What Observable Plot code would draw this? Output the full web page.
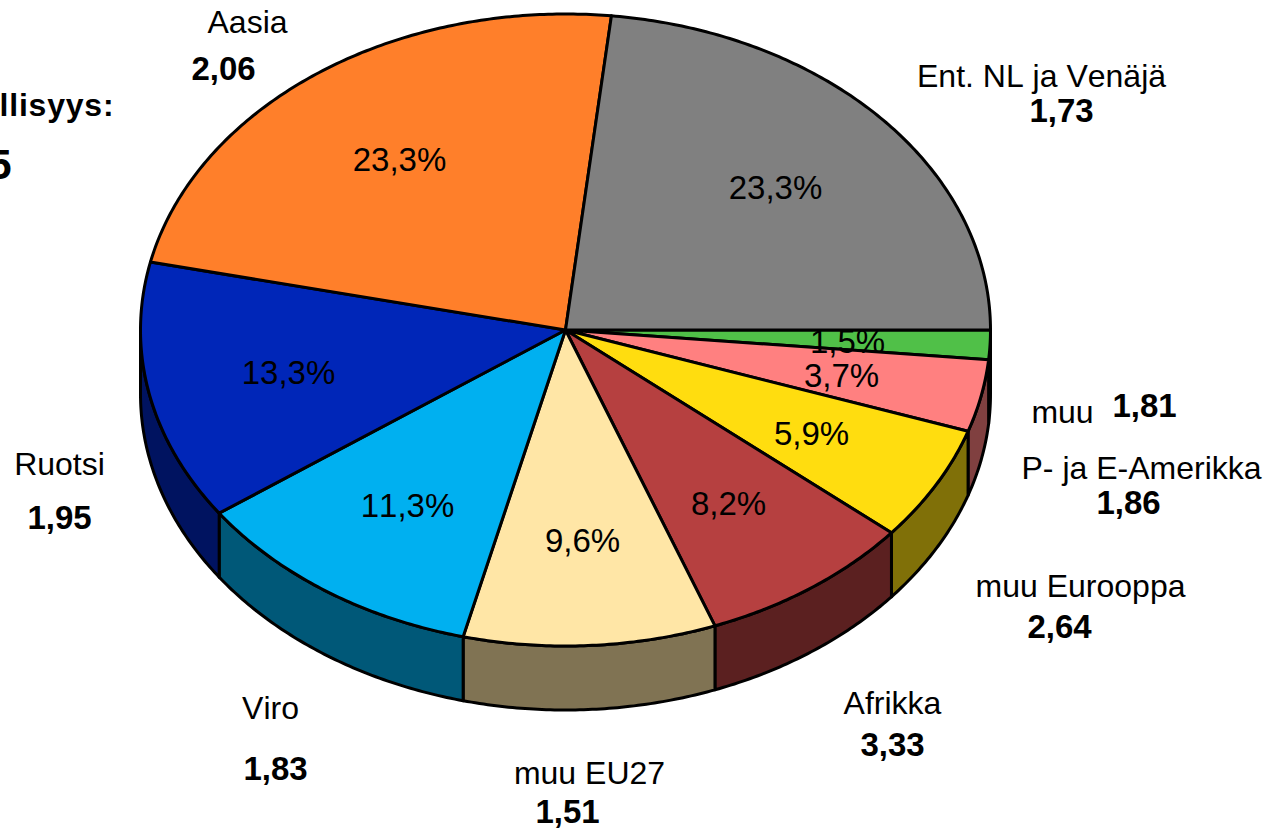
<!DOCTYPE html>
<html><head><meta charset="utf-8">
<script src="https://cdn.jsdelivr.net/npm/d3@7"></script>
<script src="https://cdn.jsdelivr.net/npm/@observablehq/plot@0.6"></script>
<style>html,body{margin:0;padding:0;background:#fff;overflow:hidden}svg{display:block}
svg text{font-kerning:none}
.headline text{letter-spacing:.8px}
</style>
</head><body><div id="chart"></div>
<script>
// Slices, clockwise from the 3 o'clock position
const regions = ["muu","P- ja E-Amerikka","muu Eurooppa","Afrikka","muu EU27","Viro","Ruotsi","Aasia","Ent. NL ja Venäjä"];
const shares = [1.5,3.7,5.9,8.2,9.6,11.3,13.3,23.3,23.3];
const shareLabels = ["1,5%","3,7%","5,9%","8,2%","9,6%","11,3%","13,3%","23,3%","23,3%"];
const rates = ["1,81","1,86","2,64","3,33","1,51","1,83","1,95","2,06","1,73"];
const topColors = ["#50c048","#ff8080","#ffdd0f","#b64040","#ffe6a6","#00b0f0","#0026b8","#ff7f2a","#808080"];
const wallColors = ["#286024","#804040","#807008","#5b2020","#807353","#005878","#001360","#804015","#404040"];

// Label placement, in the same order
const shareAt = [[847,342],[841,376],[811,434],[728,504],[582,541],[407,506],[288,373],[399,160],[775,188]];
const regionAt = [[1062,412],[1141,468],[1080,586],[892,703],[589,773],[270,708],[59,464],[247,22],[1041,76]];
const rateAt = [[1144,406],[1128,503],[1059,627],[892,745],[567,812],[275,769],[59,518],[223,69],[1061,111]];

// Pie geometry
const cx = 565, cy = 329.5, rx = 425, ry = 316, depth = 64;
const total = d3.sum(shares);
const cum = d3.cumsum(shares).map(v => v / total * 2 * Math.PI);
const starts = [0, ...cum.slice(0, -1)];
const rim = (a, dy = 0) => ({x: cx + rx * Math.cos(a), y: cy + ry * Math.sin(a) + dy});
const arc = (a0, a1, dy = 0) => {
  const n = Math.max(2, Math.ceil((a1 - a0) / 0.01));
  return d3.range(n + 1).map(i => rim(a0 + (a1 - a0) * i / n, dy));
};

const tops = [], walls = [];
regions.forEach((name, i) => {
  const a0 = starts[i], a1 = cum[i];
  const pts = [{x: cx, y: cy}, ...arc(a0, a1), {x: cx, y: cy}];
  pts.forEach(p => tops.push({...p, key: name}));
  const w0 = Math.max(a0, 0), w1 = Math.min(a1, Math.PI);
  if (w0 < w1) {
    const upper = arc(w0, w1), lower = arc(w0, w1, depth).reverse();
    [...upper, ...lower, upper[0]].forEach(p => walls.push({...p, key: name + " wall"}));
  }
});

const sans = "'Liberation Sans', Arial, sans-serif";
const shareRows = regions.map((r, i) => ({t: shareLabels[i], x: shareAt[i][0], y: shareAt[i][1]}));
const regionRows = regions.map((r, i) => ({t: r, x: regionAt[i][0], y: regionAt[i][1]}));
const rateRows = regions.map((r, i) => ({t: rates[i], x: rateAt[i][0], y: rateAt[i][1]}));
const tx = {x: "x", y: "y", text: "t", fill: "black", fontFamily: sans, lineAnchor: "middle"};

const chart = Plot.plot({
  width: 1270, height: 829,
  margin: 0,
  style: {background: "white", overflow: "hidden"},
  x: {domain: [0, 1270], range: [0, 1270], axis: null},
  y: {domain: [0, 829], range: [0, 829], axis: null},
  color: {
    domain: [...regions, ...regions.map(r => r + " wall")],
    range: [...topColors, ...wallColors]
  },
  marks: [
    Plot.line(walls, {x: "x", y: "y", z: "key", fill: "key", stroke: "black", strokeWidth: 3, strokeLinejoin: "round"}),
    Plot.line(tops, {x: "x", y: "y", z: "key", fill: "key", stroke: "black", strokeWidth: 3, strokeLinejoin: "round"}),
    Plot.text(shareRows, {...tx, fontSize: 33}),
    Plot.text(regionRows, {...tx, fontSize: 32}),
    Plot.text(rateRows, {...tx, fontSize: 33, fontWeight: "bold"}),
    Plot.text(["llisyys:"], {x: [-1], y: [105], text: d => d, fill: "black", fontFamily: sans, fontSize: 32, fontWeight: "bold", textAnchor: "start", lineAnchor: "middle", className: "headline"}),
    Plot.text(["5"], {x: [11], y: [165], text: d => d, fill: "black", fontFamily: sans, fontSize: 42, fontWeight: "bold", textAnchor: "end", lineAnchor: "middle"})
  ]
});
document.getElementById("chart").append(chart);
</script></body></html>
